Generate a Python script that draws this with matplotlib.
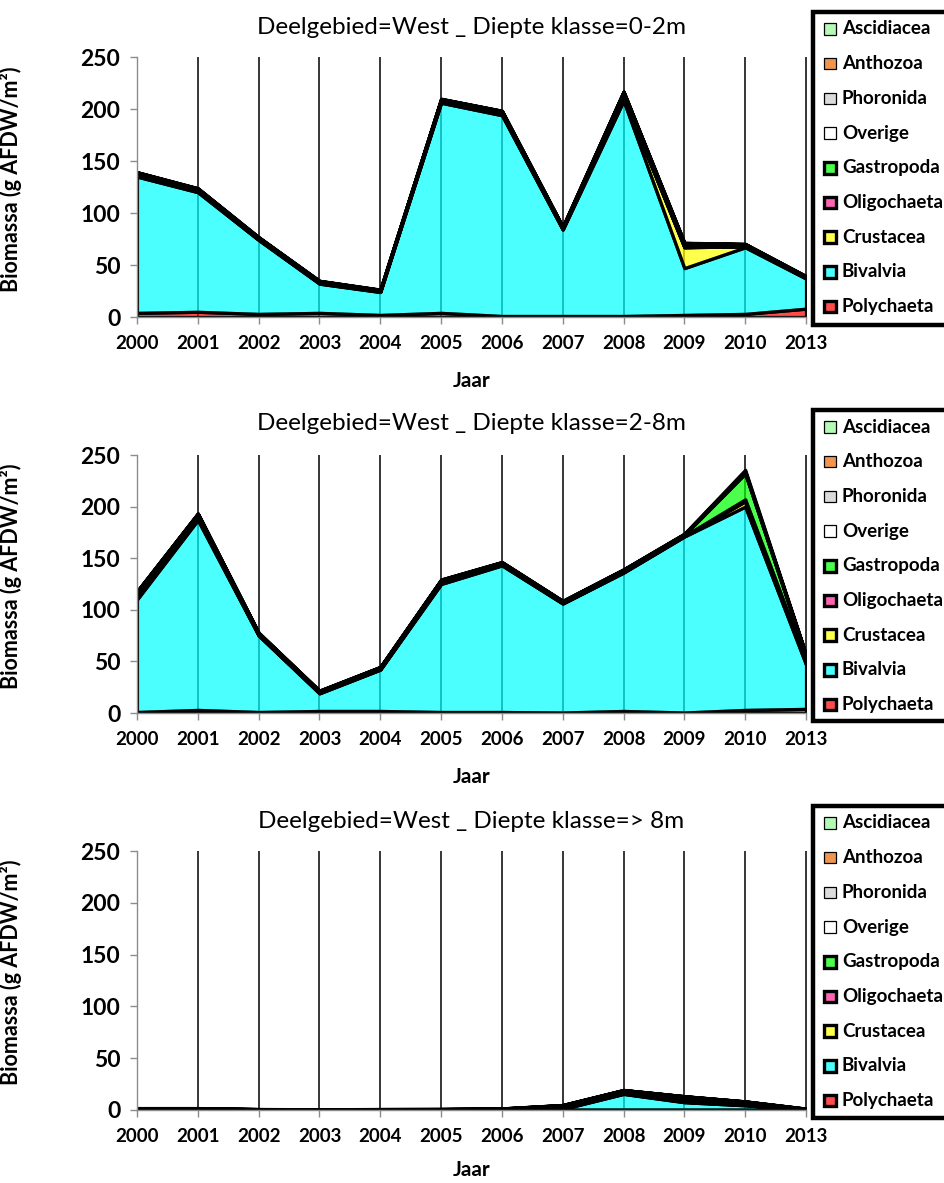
import matplotlib
matplotlib.use("Agg")
import matplotlib.pyplot as plt
from matplotlib.patches import Rectangle
from matplotlib.colors import to_rgba
import numpy as np

plt.rcParams['font.family'] = ['Lato', 'DejaVu Sans']

years = ["2000", "2001", "2002", "2003", "2004", "2005", "2006", "2007", "2008", "2009", "2010", "2013"]
series_names = ["Polychaeta", "Bivalvia", "Crustacea", "Oligochaeta", "Gastropoda",
                "Overige", "Phoronida", "Anthozoa", "Ascidiacea"]
series_colors = ["#FF0000", "#00FFFF", "#FFFF00", "#FF2294", "#00FF00",
                 "#FFFFFF", "#CDCDCD", "#E96905", "#94F894"]
legend_thick = [True, True, True, True, True, False, False, False, False]

titles = ["Deelgebied=West _ Diepte klasse=0-2m",
          "Deelgebied=West _ Diepte klasse=2-8m",
          "Deelgebied=West _ Diepte klasse=> 8m"]

# Panel 1: 0-2m
p1_polychaeta = [4, 5, 3, 4, 2, 4, 1, 1, 1, 2, 3, 8]
p1_bivalvia = [131, 115, 71, 28, 22, 202, 193, 83, 207, 45, 64, 29]
p1_crustacea = [1, 1, 0.5, 0.5, 0.5, 1, 1, 0.5, 3, 20, 1, 0.5]
p1_oligochaeta = [0.2, 0.2, 0.2, 0.2, 0.2, 0.2, 0.2, 0.2, 0.2, 0.2, 0.2, 0.2]
p1_gastropoda = [2, 1.5, 1, 1, 0.5, 1.5, 2, 1, 4.5, 3, 1, 0.5]
p1_overige = [0.5, 0.5, 0.5, 0.5, 0.5, 0.5, 0.5, 0.5, 0.5, 0.5, 0.5, 0.5]
p1_phoronida = [0.3, 0.3, 0.3, 0.3, 0.3, 0.3, 0.3, 0.3, 0.3, 0.3, 0.3, 0.3]
p1_anthozoa = [0.2, 0.2, 0.2, 0.2, 0.2, 0.2, 0.2, 0.2, 0.2, 0.2, 0.2, 0.2]
p1_ascidiacea = [0.2, 0.2, 0.2, 0.2, 0.2, 0.2, 0.2, 0.2, 0.2, 0.2, 0.2, 0.2]

# Panel 2: 2-8m
p2_polychaeta = [1, 3, 1, 2, 2, 1, 1, 0.5, 2, 0.5, 3, 4]
p2_bivalvia = [109, 184, 74, 17, 40, 124, 142, 105.5, 134, 170.5, 197, 43]
p2_crustacea = [2, 1.5, 0.5, 0.5, 0.5, 1, 1, 0.5, 0.5, 0.5, 5, 3]
p2_oligochaeta = [0.3, 0.3, 0.2, 0.1, 0.1, 0.2, 0.2, 0.1, 0.1, 0.1, 2, 1]
p2_gastropoda = [4, 3, 1, 1, 1, 1.5, 1, 1, 1.5, 1, 25, 4]
p2_overige = [1, 1, 0.5, 0.5, 0.5, 1, 0.5, 0.5, 0.5, 0.5, 1, 1]
p2_phoronida = [0.3, 0.3, 0.3, 0.3, 0.3, 0.3, 0.3, 0.3, 0.3, 0.3, 0.5, 0.3]
p2_anthozoa = [0.2, 0.2, 0.2, 0.2, 0.2, 0.2, 0.2, 0.2, 0.2, 0.2, 0.2, 0.2]
p2_ascidiacea = [0.2, 0.2, 0.2, 0.2, 0.2, 0.2, 0.2, 0.2, 0.2, 0.2, 2, 0.2]

# Panel 3: > 8m
p3_polychaeta = [0.5, 0.5, 0.2, 0.1, 0.2, 0.2, 0.3, 0.5, 0.5, 0.5, 0.5, 0.3]
p3_bivalvia = [0, 0, 0, 0, 0, 0, 0, 0.5, 15, 7, 4, 0]
p3_crustacea = [0.3, 0.3, 0.1, 0.1, 0.1, 0.1, 0.2, 0.5, 0.5, 0.5, 0.5, 0.2]
p3_oligochaeta = [0.1, 0.1, 0.1, 0.1, 0.1, 0.1, 0.1, 0.1, 0.1, 0.1, 0.1, 0.1]
p3_gastropoda = [0.5, 0.5, 0.2, 0, 0.2, 0.3, 0.5, 2, 2, 3, 2, 0.3]
p3_overige = [0.2, 0.2, 0.1, 0.1, 0.1, 0.1, 0.2, 1, 1, 2, 1, 0.2]
p3_phoronida = [0.1, 0.1, 0.1, 0.1, 0.1, 0.1, 0.1, 0.1, 0.1, 0.1, 0.1, 0.1]
p3_anthozoa = [0.1, 0.1, 0.1, 0.1, 0.1, 0.1, 0.1, 0.1, 0.1, 0.1, 0.1, 0.1]
p3_ascidiacea = [0.1, 0.1, 0.1, 0.1, 0.1, 0.1, 0.1, 0.1, 0.1, 0.1, 0.1, 0.1]

panels = [
    [p1_polychaeta, p1_bivalvia, p1_crustacea, p1_oligochaeta, p1_gastropoda,
     p1_overige, p1_phoronida, p1_anthozoa, p1_ascidiacea],
    [p2_polychaeta, p2_bivalvia, p2_crustacea, p2_oligochaeta, p2_gastropoda,
     p2_overige, p2_phoronida, p2_anthozoa, p2_ascidiacea],
    [p3_polychaeta, p3_bivalvia, p3_crustacea, p3_oligochaeta, p3_gastropoda,
     p3_overige, p3_phoronida, p3_anthozoa, p3_ascidiacea],
]

W, H = 945, 1183
fig = plt.figure(figsize=(W / 100, H / 100), dpi=100)

ax_left, ax_right = 137, 806
ax_tops = [57, 455, 851]
ax_bots = [317, 713, 1110]
jaar_y = [381, 777, 1170]
title_y = [27, 424, 821]

ALPHA = 0.7
GRAY = "#8c8c8c"

def fx(px):
    return px / W

def fy(py):
    return 1 - py / H

x = np.arange(len(years))

for i, data in enumerate(panels):
    top, bot = ax_tops[i], ax_bots[i]
    ax = fig.add_axes([fx(ax_left), fy(bot), fx(ax_right) - fx(ax_left), (bot - top) / H])
    ax.set_xlim(0, len(years) - 1)
    ax.set_ylim(0, 250)

    # vertical category gridlines
    ax.vlines(x[1:], 0, 250, colors="black", lw=1.1, zorder=1, clip_on=False)

    cum = np.zeros(len(years))
    for name, vals, col in zip(series_names, data, series_colors):
        new = cum + np.array(vals, dtype=float)
        ax.fill_between(x, cum, new, facecolor=to_rgba(col, ALPHA),
                        edgecolor="black", linewidth=2.3, zorder=2)
        cum = new

    for s in ["top", "right"]:
        ax.spines[s].set_visible(False)
    for s in ["left", "bottom"]:
        ax.spines[s].set_color(GRAY)
        ax.spines[s].set_linewidth(1.0)
        ax.spines[s].set_zorder(3)

    ax.set_yticks([0, 50, 100, 150, 200, 250])
    ax.set_xticks(x)
    ax.set_xticklabels(years)
    ax.tick_params(axis="y", direction="out", length=5, color=GRAY, width=1,
                   labelsize=16.5, pad=7)
    ax.tick_params(axis="x", direction="out", length=5, color=GRAY, width=1,
                   labelsize=13.5, pad=8)
    for lab in ax.get_xticklabels():
        lab.set_fontweight("bold")
    for lab in ax.get_yticklabels():
        lab.set_fontweight("bold")

    ax.set_ylabel("Biomassa (g AFDW/m²)", fontsize=15.5, fontweight="bold")
    ax.yaxis.set_label_coords(fx(22 - ax_left) / (fx(ax_right) - fx(ax_left)), 0.53)

    fig.text(fx((ax_left + ax_right) / 2), fy(jaar_y[i]), "Jaar", ha="center",
             va="center", fontsize=15, fontweight="bold")
    fig.text(fx((ax_left + ax_right) / 2), fy(title_y[i]), titles[i], ha="center",
             va="center", fontsize=17.5)

    # legend box
    lg_top = top - 45
    lg_bot = bot + 8
    lg_left = 813
    fig.add_artist(Rectangle((fx(lg_left), fy(lg_bot)), fx(980 - lg_left), (lg_bot - lg_top) / H,
                             transform=fig.transFigure, facecolor="white",
                             edgecolor="black", linewidth=3.2, clip_on=False))
    for k in range(len(series_names)):
        j = len(series_names) - 1 - k
        cy = lg_top + 17 + k * 34.7
        sz = 11.5
        fig.add_artist(Rectangle((fx(830 - sz / 2), fy(cy + sz / 2)), sz / W, sz / H,
                                 transform=fig.transFigure,
                                 facecolor=to_rgba(series_colors[j], ALPHA),
                                 edgecolor="black",
                                 linewidth=2.4 if legend_thick[j] else 0.9))
        fig.text(fx(842), fy(cy), series_names[j], ha="left", va="center",
                 fontsize=13.5, fontweight="bold")

fig.savefig("out.png", dpi=100)
